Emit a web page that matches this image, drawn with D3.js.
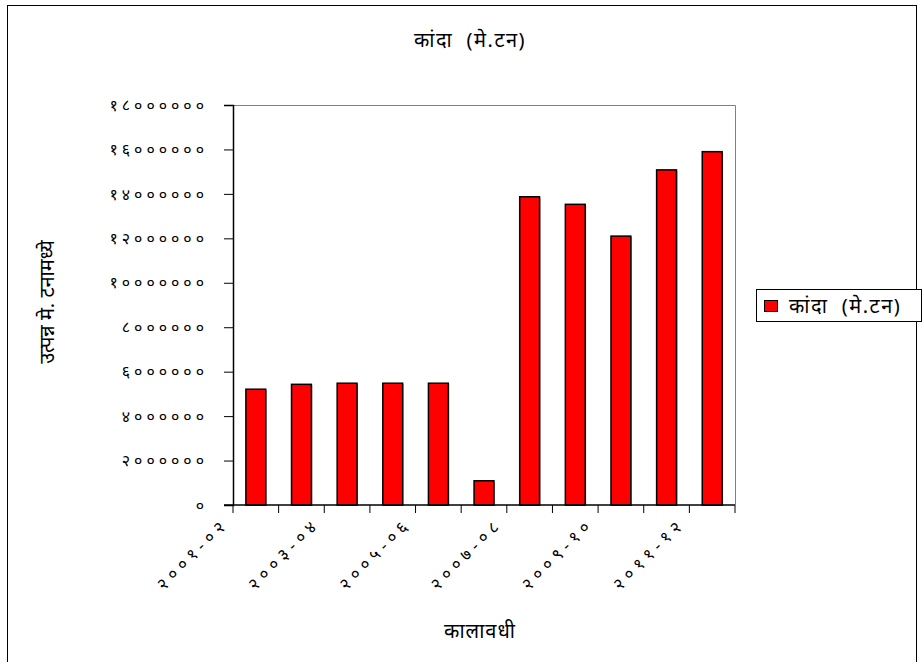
<!DOCTYPE html>
<html><head><meta charset="utf-8">
<script src="https://cdn.jsdelivr.net/npm/d3@7"></script>
<style>body{margin:0;background:#fff}svg{display:block}text{font-family:"Noto Sans","Noto Sans Devanagari","Lohit Devanagari",sans-serif;fill:#000;white-space:pre}</style>
</head><body><svg id="c" width="922" height="662"></svg>
<script>
const categories = ["२००१-०२","२००२-०३","२००३-०४","२००४-०५","२००५-०६","२००६-०७","२००७-०८","२००८-०९","२००९-१०","२०१०-११","२०११-१२"];
const values = [5210000,5430000,5480000,5480000,5480000,1090000,13870000,13530000,12100000,15080000,15900000];
const yTicks = [0,2000000,4000000,6000000,8000000,10000000,12000000,14000000,16000000,18000000];
const title = "कांदा  (मे.टन)";
const seriesName = "कांदा  (मे.टन)";
const xTitle = "कालावधी";
const yTitle = "उत्पन्न मे. टनामध्ये";

const dev = s => String(s).replace(/[0-9]/g, d => "०१२३४५६७८९"[+d]);
const svg = d3.select("#c");
const L=233, R=735, T=105, B=505;
svg.append("rect").attr("x",7.5).attr("y",5.5).attr("width",909).attr("height",670).attr("fill","none").attr("stroke","#000");

const x = d3.scaleBand().domain(categories).range([L,R]).paddingInner(0.565).paddingOuter(0.2825);
const xb = d3.scaleBand().domain(categories).range([L,R]);
const y = d3.scaleLinear().domain([0,18000000]).range([B,T]);

svg.append("path").attr("d",`M${L},${T+0.5}H${R+0.5}V${B}`).attr("fill","none").attr("stroke","#808080");

svg.selectAll(".sh").data(values).enter().append("rect")
  .attr("x",(d,i)=>x(categories[i])+1).attr("y",d=>y(d)+1).attr("width",x.bandwidth()).attr("height",d=>B-y(d))
  .attr("fill","#999");
svg.selectAll(".bar").data(values).enter().append("rect")
  .attr("x",(d,i)=>x(categories[i])).attr("y",d=>y(d)).attr("width",x.bandwidth()).attr("height",d=>B-y(d))
  .attr("fill","#ff0000").attr("stroke","#000").attr("stroke-width",1.5);

const ya = svg.append("g").attr("transform",`translate(${L},0)`)
  .call(d3.axisLeft(y).tickValues(yTicks).tickSize(9).tickPadding(16).tickFormat(dev));
ya.select(".domain").attr("stroke","#000").attr("stroke-width",1.5);
ya.selectAll("line").attr("stroke","#000");
ya.selectAll("text").attr("font-size",16).attr("letter-spacing","4px");

svg.append("line").attr("x1",L-9).attr("x2",R).attr("y1",B).attr("y2",B).attr("stroke","#000").attr("stroke-width",1.5);
const bounds = categories.map(c=>xb(c)).concat([R]);
svg.selectAll(".xt").data(bounds).enter().append("line")
  .attr("x1",d=>d).attr("x2",d=>d).attr("y1",B).attr("y2",B+8).attr("stroke","#000");
svg.selectAll(".xl").data(categories.filter((c,i)=>i%2===0)).enter().append("text")
  .attr("transform",d=>`translate(${xb(d)+xb.bandwidth()/2-26},${B+20}) rotate(-45)`)
  .attr("text-anchor","end").attr("font-size",17).attr("letter-spacing","5px").text(d=>d);

svg.append("text").attr("x",470).attr("y",47).attr("text-anchor","middle").attr("font-size",20).attr("letter-spacing","1.5px").text(title);
svg.append("text").attr("x",480).attr("y",638).attr("text-anchor","middle").attr("font-size",20).attr("letter-spacing","1px").text(xTitle);
svg.append("text").attr("transform","translate(54,302) rotate(-90)").attr("text-anchor","middle").attr("font-size",20).text(yTitle);

const lg = svg.append("g");
lg.append("rect").attr("x",756.5).attr("y",289.5).attr("width",165).attr("height",32).attr("fill","#fff").attr("stroke","#000");
lg.append("rect").attr("x",764.5).attr("y",300.5).attr("width",13).attr("height",11).attr("fill","#ff0000").attr("stroke","#000");
lg.append("text").attr("x",789).attr("y",313).attr("font-size",20).attr("letter-spacing","1.5px").text(seriesName);
</script></body></html>
